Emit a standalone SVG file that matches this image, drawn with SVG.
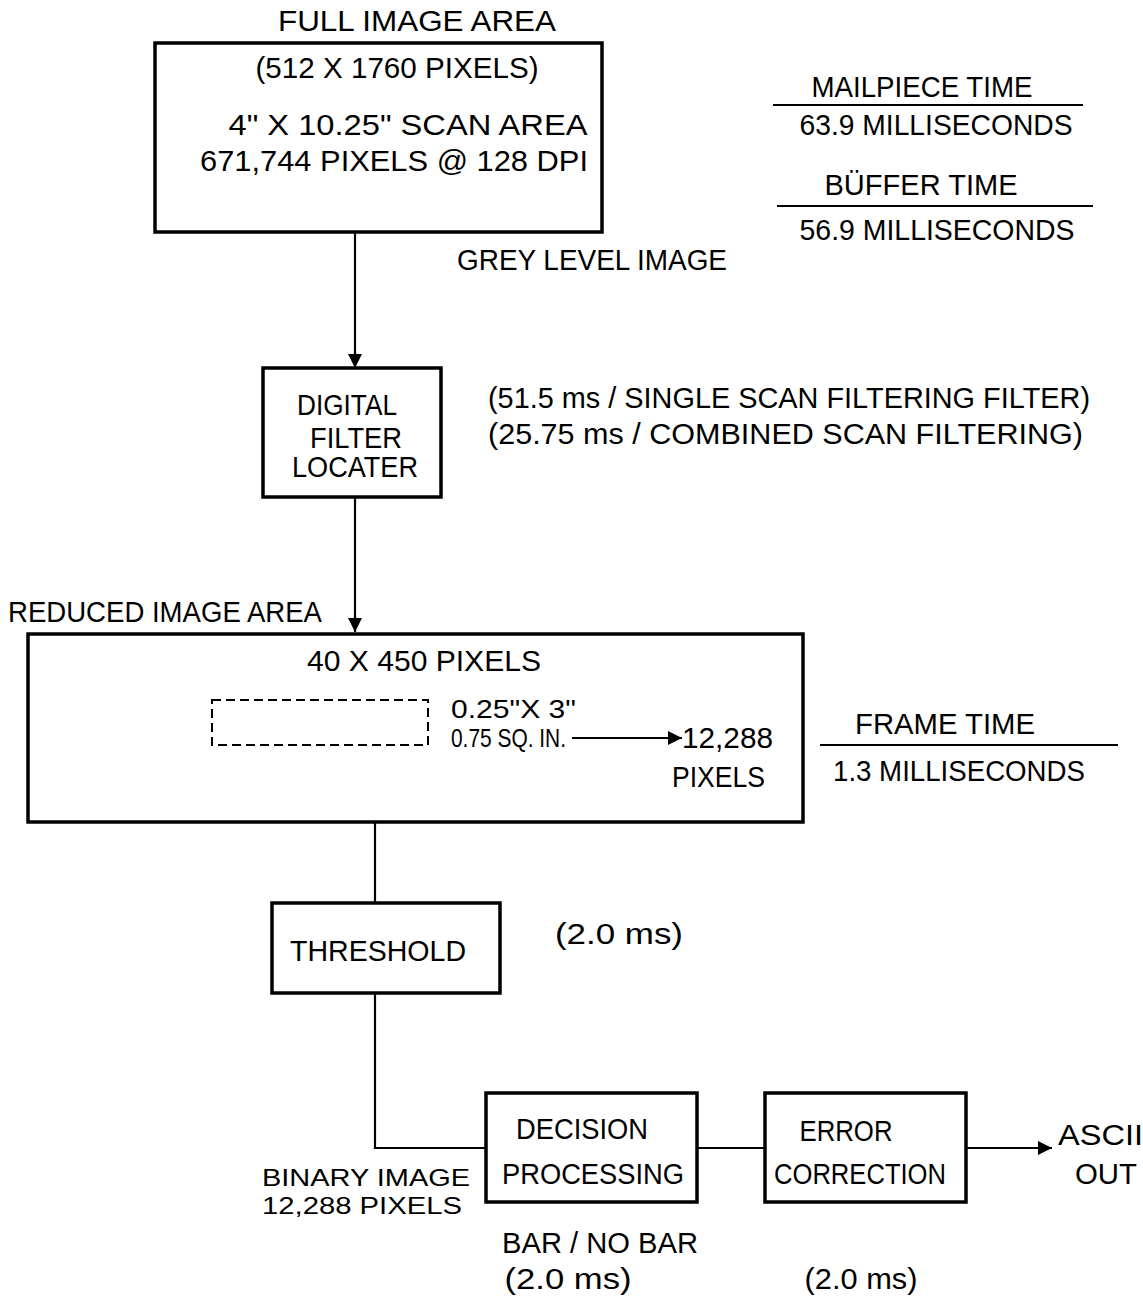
<svg xmlns="http://www.w3.org/2000/svg" width="1143" height="1299" viewBox="0 0 1143 1299">
<style>
text{font-family:"Liberation Sans",Arial,sans-serif;font-size:29px;fill:#000}
.sm{font-size:24px}
.md{font-size:26px}
.box{fill:none;stroke:#000;stroke-width:3.5}
.ln{fill:none;stroke:#000;stroke-width:2.2}
.dash{fill:none;stroke:#000;stroke-width:2;stroke-dasharray:9 5}
.c{text-anchor:middle}
</style>
<defs>
<marker id="ah2" viewBox="0 0 10 10" refX="10" refY="5" markerWidth="20" markerHeight="14" markerUnits="userSpaceOnUse" orient="auto">
<path d="M0,0 L10,5 L0,10 z" fill="#000"/>
</marker>
</defs>
<g id="connectors">
<line class="ln" x1="355" y1="232" x2="355" y2="368" marker-end="url(#ah2)"/>
<line class="ln" x1="355" y1="497" x2="355" y2="632" marker-end="url(#ah2)"/>
<line class="ln" x1="375" y1="822" x2="375" y2="903"/>
<polyline class="ln" points="375,993 375,1148 486,1148"/>
<line class="ln" x1="697" y1="1148" x2="765" y2="1148"/>
<line class="ln" x1="966" y1="1148" x2="1052" y2="1148" marker-end="url(#ah2)"/>
<line class="ln" x1="572" y1="738" x2="682" y2="738" marker-end="url(#ah2)"/>
</g>
<g id="full-image-area">
<text x="417" y="31" class="c" textLength="278" lengthAdjust="spacingAndGlyphs">FULL IMAGE AREA</text>
<rect class="box" x="155" y="43" width="447" height="189"/>
<text x="397" y="78" class="c" textLength="283" lengthAdjust="spacingAndGlyphs">(512 X 1760 PIXELS)</text>
<text x="408" y="135" class="c" textLength="359" lengthAdjust="spacingAndGlyphs">4" X 10.25" SCAN AREA</text>
<text x="394" y="171" class="c" textLength="388" lengthAdjust="spacingAndGlyphs">671,744 PIXELS @ 128 DPI</text>
</g>
<text x="592" y="270" class="c" textLength="270" lengthAdjust="spacingAndGlyphs">GREY LEVEL IMAGE</text>
<g id="times">
<text x="922" y="97" class="c" textLength="221" lengthAdjust="spacingAndGlyphs">MAILPIECE TIME</text>
<line class="ln" x1="773" y1="105" x2="1083" y2="105"/>
<text x="936" y="135" class="c" textLength="273" lengthAdjust="spacingAndGlyphs">63.9 MILLISECONDS</text>
<text x="921" y="195" class="c" textLength="193" lengthAdjust="spacingAndGlyphs">BÜFFER TIME</text>
<line class="ln" x1="777" y1="206" x2="1093" y2="206"/>
<text x="937" y="240" class="c" textLength="275" lengthAdjust="spacingAndGlyphs">56.9 MILLISECONDS</text>
</g>
<g id="digital-filter-locater">
<rect class="box" x="263" y="368" width="178" height="129"/>
<text x="347" y="415" class="c" textLength="100" lengthAdjust="spacingAndGlyphs">DIGITAL</text>
<text x="356" y="448" class="c" textLength="92" lengthAdjust="spacingAndGlyphs">FILTER</text>
<text x="355" y="477" class="c" textLength="126" lengthAdjust="spacingAndGlyphs">LOCATER</text>
</g>
<text x="488" y="408" textLength="602" lengthAdjust="spacingAndGlyphs">(51.5 ms / SINGLE SCAN FILTERING FILTER)</text>
<text x="488" y="444" textLength="595" lengthAdjust="spacingAndGlyphs">(25.75 ms / COMBINED SCAN FILTERING)</text>
<g id="reduced-image-area">
<text x="8" y="622" textLength="314" lengthAdjust="spacingAndGlyphs">REDUCED IMAGE AREA</text>
<rect class="box" x="28" y="634" width="775" height="188"/>
<text x="424" y="671" class="c" textLength="234" lengthAdjust="spacingAndGlyphs">40 X 450 PIXELS</text>
<rect class="dash" x="212" y="700" width="216" height="45"/>
<text class="md" x="451" y="718" textLength="125" lengthAdjust="spacingAndGlyphs">0.25"X 3"</text>
<text class="md" x="451" y="747" textLength="115" lengthAdjust="spacingAndGlyphs">0.75 SQ. IN.</text>
<text x="682" y="748" textLength="91" lengthAdjust="spacingAndGlyphs">12,288</text>
<text x="672" y="787" textLength="93" lengthAdjust="spacingAndGlyphs">PIXELS</text>
</g>
<g id="frame-time">
<text x="945" y="734" class="c" textLength="180" lengthAdjust="spacingAndGlyphs">FRAME TIME</text>
<line class="ln" x1="820" y1="745" x2="1118" y2="745"/>
<text x="959" y="781" class="c" textLength="252" lengthAdjust="spacingAndGlyphs">1.3 MILLISECONDS</text>
</g>
<g id="threshold">
<rect class="box" x="272" y="903" width="228" height="90"/>
<text x="378" y="961" class="c" textLength="176" lengthAdjust="spacingAndGlyphs">THRESHOLD</text>
</g>
<text x="619" y="944" class="c" textLength="128" lengthAdjust="spacingAndGlyphs">(2.0 ms)</text>
<g id="decision-processing">
<rect class="box" x="486" y="1093" width="211" height="109"/>
<text x="582" y="1139" class="c" textLength="132" lengthAdjust="spacingAndGlyphs">DECISION</text>
<text x="593" y="1184" class="c" textLength="182" lengthAdjust="spacingAndGlyphs">PROCESSING</text>
</g>
<g id="error-correction">
<rect class="box" x="765" y="1093" width="201" height="109"/>
<text x="846" y="1141" class="c" textLength="93" lengthAdjust="spacingAndGlyphs">ERROR</text>
<text x="860" y="1184" class="c" textLength="172" lengthAdjust="spacingAndGlyphs">CORRECTION</text>
</g>
<g id="ascii-out">
<text x="1058" y="1145" textLength="85" lengthAdjust="spacingAndGlyphs">ASCII</text>
<text x="1075" y="1184" textLength="62" lengthAdjust="spacingAndGlyphs">OUT</text>
</g>
<text class="sm" x="262" y="1186" textLength="208" lengthAdjust="spacingAndGlyphs">BINARY IMAGE</text>
<text class="sm" x="262" y="1214" textLength="200" lengthAdjust="spacingAndGlyphs">12,288 PIXELS</text>
<text x="600" y="1253" class="c" textLength="196" lengthAdjust="spacingAndGlyphs">BAR / NO BAR</text>
<text x="568" y="1289" class="c" textLength="127" lengthAdjust="spacingAndGlyphs">(2.0 ms)</text>
<text x="861" y="1289" class="c" textLength="113" lengthAdjust="spacingAndGlyphs">(2.0 ms)</text>
</svg>
